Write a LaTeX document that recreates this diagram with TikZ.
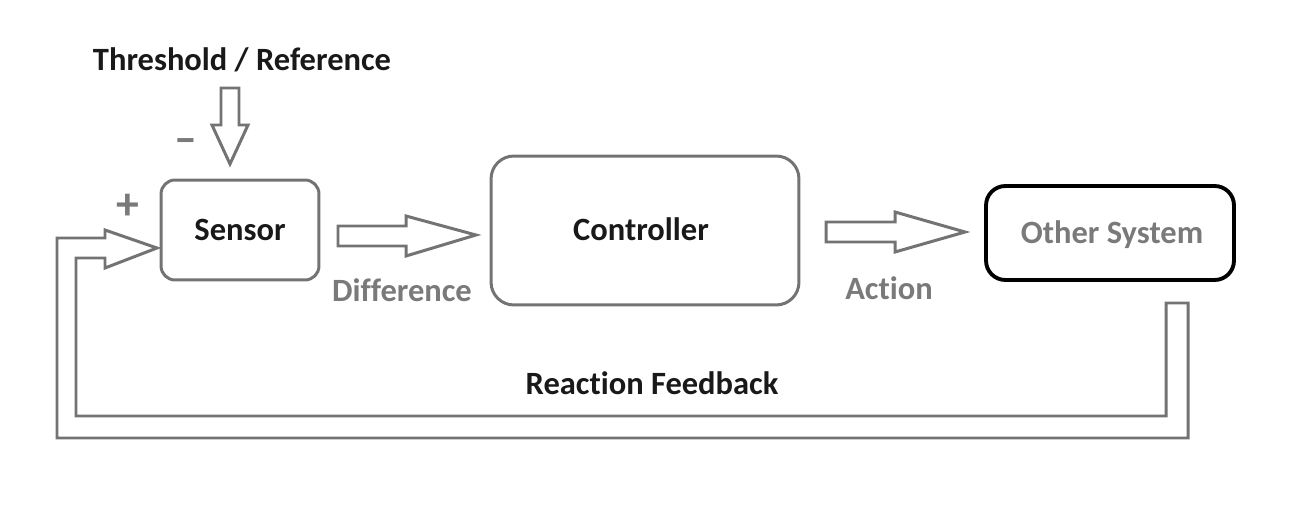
\documentclass[tikz,border=0pt]{standalone}
\usepackage{fontspec}
\setmainfont{Carlito}[Ligatures=NoCommon]
\usepackage{tikz}
\usetikzlibrary{shapes, calc}

\definecolor{linegray}{HTML}{737373}
\definecolor{textgray}{HTML}{7A7A7A}

\begin{document}
\begin{tikzpicture}[x=0.02cm, y=-0.02cm,
	label/.style={font=\fontsize{18.5}{22}\selectfont\bfseries, text=black!90},
	graylabel/.style={label, text=textgray},
	box/.style={draw=linegray, line width=1.7pt, rectangle, inner sep=0pt, label},
	blockarrow/.style={draw=linegray, line width=1.7pt, fill=white, line join=miter}]

	\useasboundingbox (0,0) rectangle (1297,513);

	% boxes
	\node[box, rounded corners=8pt, minimum width=3.16cm, minimum height=2cm]
		(sensor) at (240,230) {Sensor};
	\node[box, rounded corners=13pt, minimum width=6.16cm, minimum height=2.98cm]
		(controller) at (645,230.5) {};
	\node[label] (controllertext) at (641,229) {Controller};
	\node[box, draw=black, line width=2.2pt, rounded corners=11pt,
		minimum width=4.96cm, minimum height=1.88cm]
		(system) at (1110,233) {};
	\node[graylabel] (systemtext) at (1112,235) {Other System};

	% block arrows
	\draw[blockarrow] (221,88) -- (239,88) -- (239,125) -- (248,125) -- (230,164)
		-- (212,125) -- (221,125) -- cycle;
	\draw[blockarrow] (338,226) -- (406,226) -- (406,216) -- (476,235) -- (406,256)
		-- (406,246) -- (338,246) -- cycle;
	\draw[blockarrow] (826,222) -- (895,222) -- (895,212) -- (965,232) -- (895,252)
		-- (895,242) -- (826,242) -- cycle;

	% feedback loop
	\draw[blockarrow] (1166,303) -- (1166,416) -- (76,416) -- (76,258) -- (105,258)
		-- (105,268) -- (157,248) -- (105,230) -- (105,238) -- (57,238) -- (57,438)
		-- (1188,438) -- (1188,303) -- cycle;

	% texts
	\node[label] (reference) at (242,60) {Threshold / Reference};
	\node[graylabel] (minus) at (186,146) {\fontsize{26}{26}\selectfont --};
	\node[graylabel] (plus) at (128,207) {\fontsize{26}{26}\selectfont +};
	\node[graylabel] (difference) at (402,290) {Difference};
	\node[graylabel] (action) at (889,288) {Action};
	\node[label] (feedback) at (652,383) {Reaction Feedback};
\end{tikzpicture}
\end{document}
